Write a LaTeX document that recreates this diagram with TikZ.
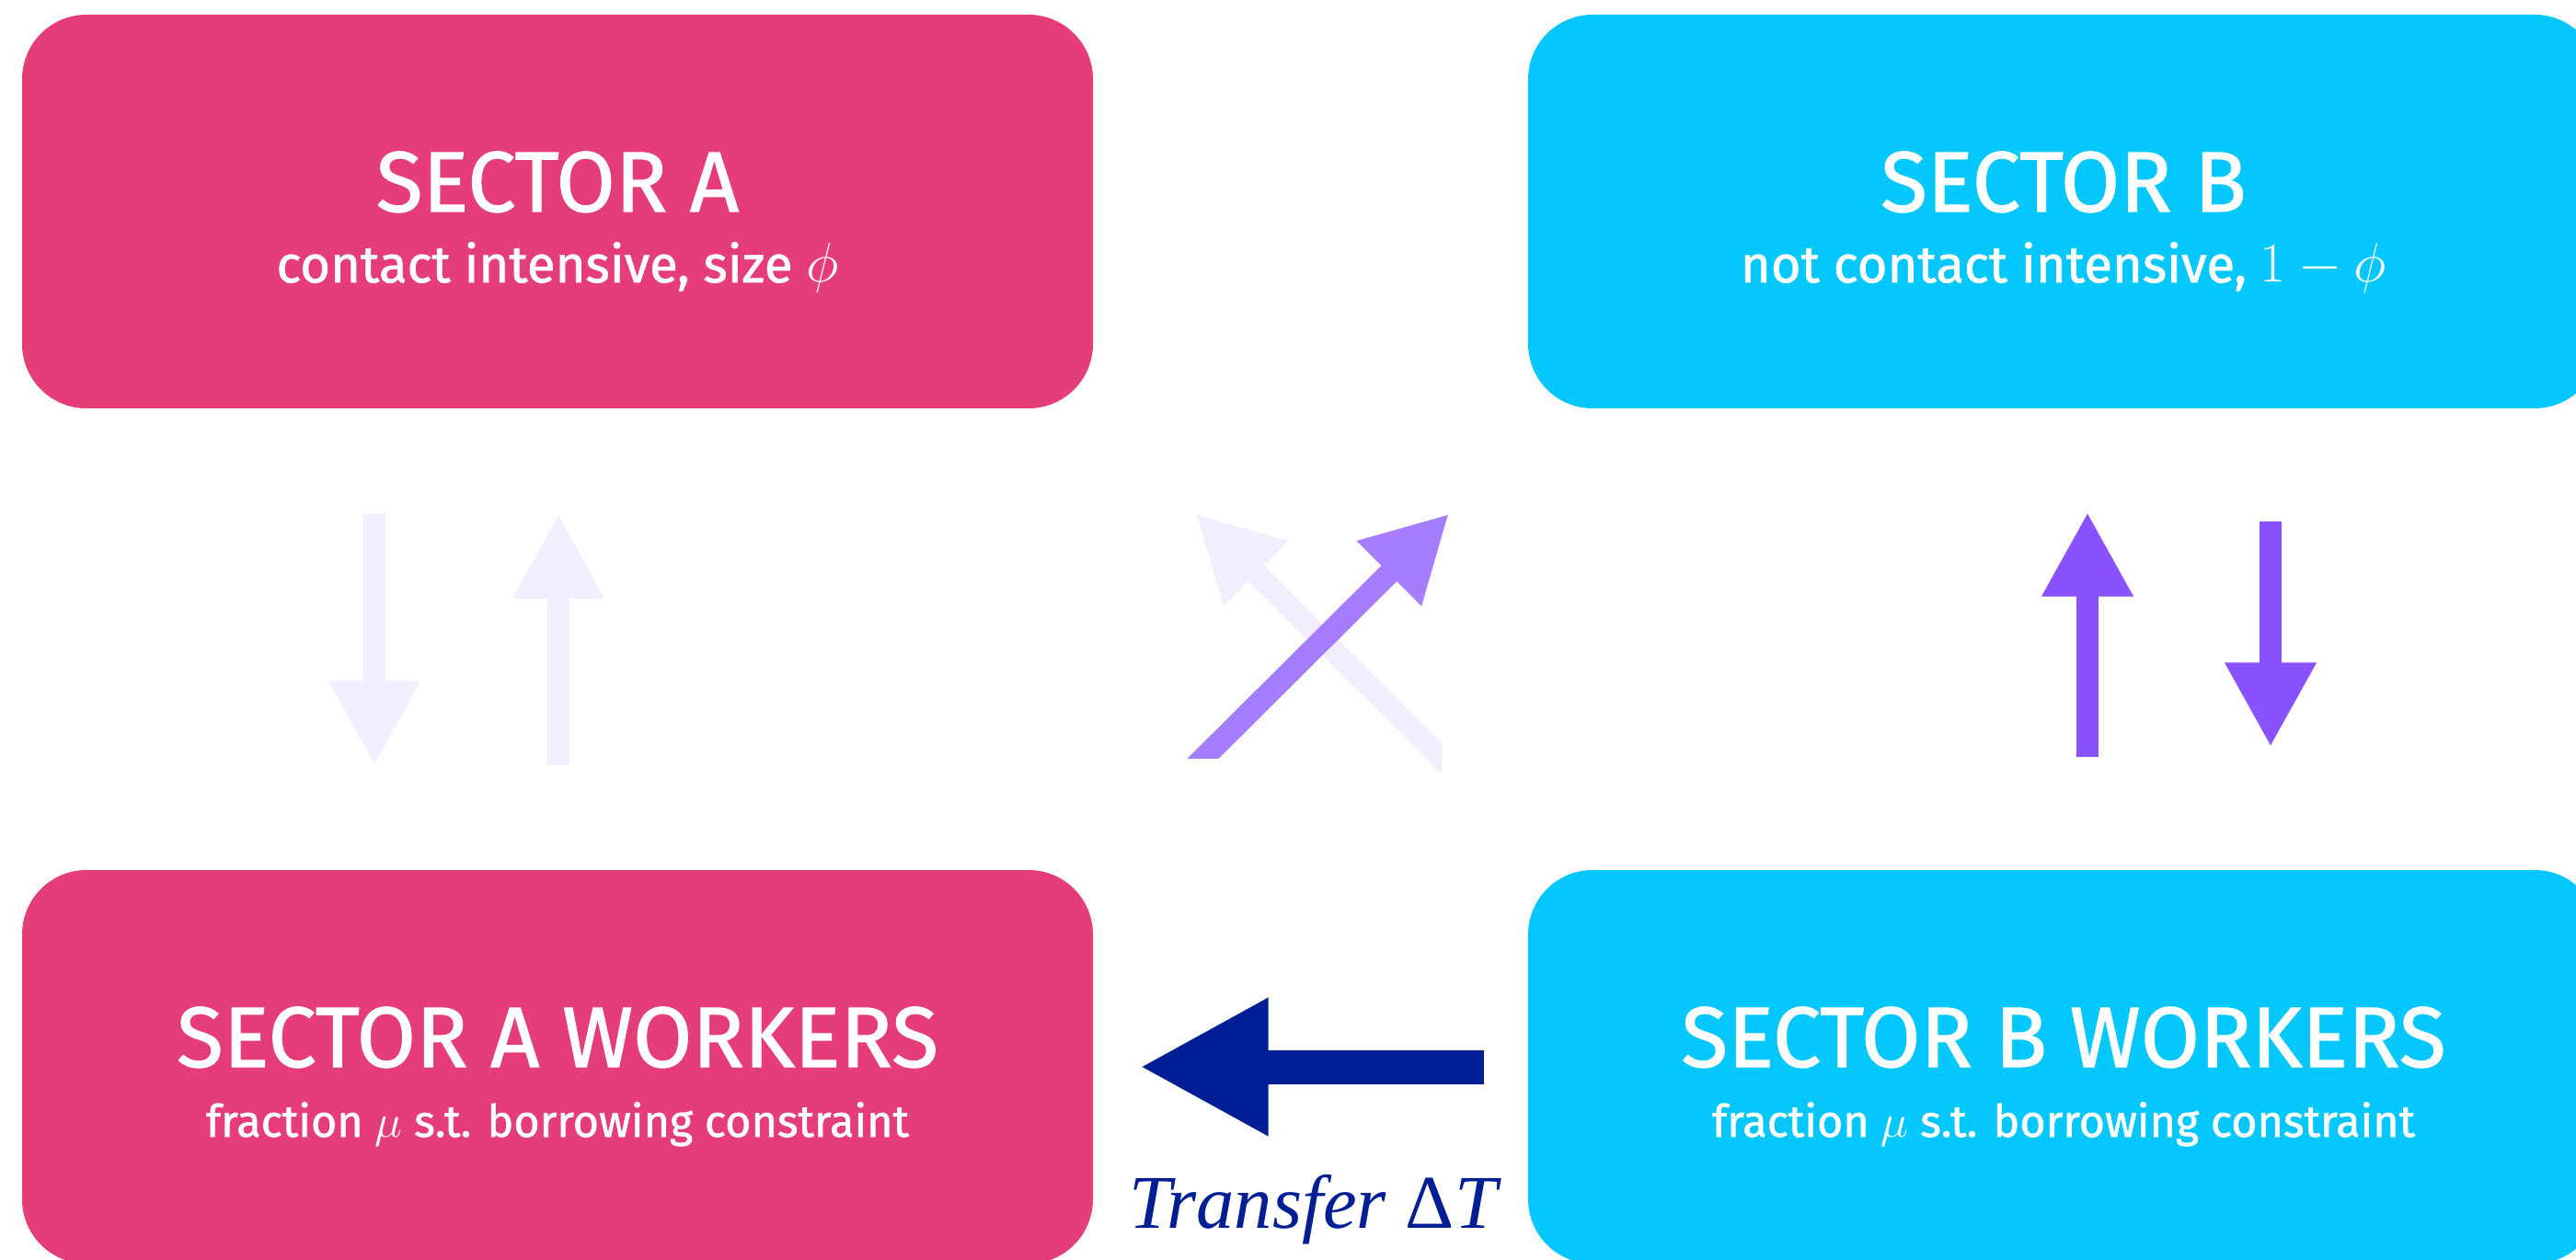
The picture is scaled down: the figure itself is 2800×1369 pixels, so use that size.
\documentclass[tikz,border=0pt]{standalone}
\usepackage[no-math]{fontspec}
\setmainfont{Fira Sans}[FakeBold=1.2]
\newfontfamily\transferfont{Liberation Serif}
\usetikzlibrary{arrows.meta,calc}
\definecolor{secApink}{HTML}{E53C7A}
\definecolor{secBcyan}{HTML}{04C8FD}
\definecolor{flowpurple}{HTML}{8A52FF}
\definecolor{transferblue}{HTML}{011E95}
\begin{document}
\begin{tikzpicture}[x=0.1mm,y=0.1mm,
	box/.style={rounded corners=7mm,minimum width=116.4mm,minimum height=42.8mm,inner sep=0pt},
	title/.style={anchor=base,text=white,font=\fontsize{26.5}{30}\selectfont},
	sub/.style={anchor=base,text=white,font=\fontsize{16}{19}\selectfont},
	smallsub/.style={anchor=base,text=white,font=\fontsize{13.8}{16}\selectfont},
	flow/.style={line width=2.4mm,-{Triangle[length=9.2mm,width=9.3mm]}},
	transfer/.style={draw=transferblue,line width=3.7mm,-{Triangle[length=14mm,width=14mm]}}]
	\useasboundingbox (0,0) rectangle (2800,1369);
	% the four boxes
	\node[box,fill=secApink] (a) at (606,1139) {};
	\node[box,fill=secBcyan] (b) at (2243,1139) {};
	\node[box,fill=secApink] (aw) at (606,209) {};
	\node[box,fill=secBcyan] (bw) at (2243,209) {};
	\node[title] (atitle) at (a.center) {SECTOR A};
	\node[sub] (asub) at ([yshift=-7.7mm]a.center) {contact intensive, size $\phi$};
	\node[title] (btitle) at (b.center) {SECTOR B};
	\node[sub] (bsub) at ([yshift=-7.7mm]b.center) {not contact intensive, $1-\phi$};
	\node[title] (awtitle) at (aw.center) {SECTOR A WORKERS};
	\node[smallsub] (awsub) at ([yshift=-7.6mm]aw.center) {fraction $\mu$ s.t. borrowing constraint};
	\node[title] (bwtitle) at (bw.center) {SECTOR B WORKERS};
	\node[smallsub] (bwsub) at ([yshift=-7.6mm]bw.center) {fraction $\mu$ s.t. borrowing constraint};
	% flows between sectors and workers
	\draw[flow,draw=flowpurple!10] ($(a.south)+(-199,-114)$) -- ($(aw.north)+(-199,113)$);
	\draw[flow,draw=flowpurple!10] ($(aw.north)+(1,113)$) -- ($(a.south)+(1,-114)$);
	\draw[flow,draw=flowpurple] ($(bw.north)+(26,122)$) -- ($(b.south)+(26,-112)$);
	\draw[flow,draw=flowpurple] ($(b.south)+(225,-122)$) -- ($(bw.north)+(225,133)$);
	\begin{scope}
		\clip (1200,500) rectangle (1567,900);
		\draw[flow,draw=flowpurple!10] ($(bw.north)+(-663,108)$) -- ($(a.south)+(694,-114)$);
	\end{scope}
	\begin{scope}
		\clip (1200,545) rectangle (1700,900);
		\draw[flow,draw=flowpurple!75] ($(aw.north)+(689,108)$) -- ($(b.south)+(-668,-114)$);
	\end{scope}
	% transfer
	\draw[transfer] ([xshift=-4.7mm]bw.west) -- ([xshift=5mm]aw.east);
	\node[anchor=base,text=transferblue,font=\transferfont\fontsize{23.5}{27}\selectfont] (tlabel)
		at ($(aw.east)!.5!(bw.west)+(5,-175)$) {\textit{Transfer} Δ\textit{T}};
\end{tikzpicture}
\end{document}
